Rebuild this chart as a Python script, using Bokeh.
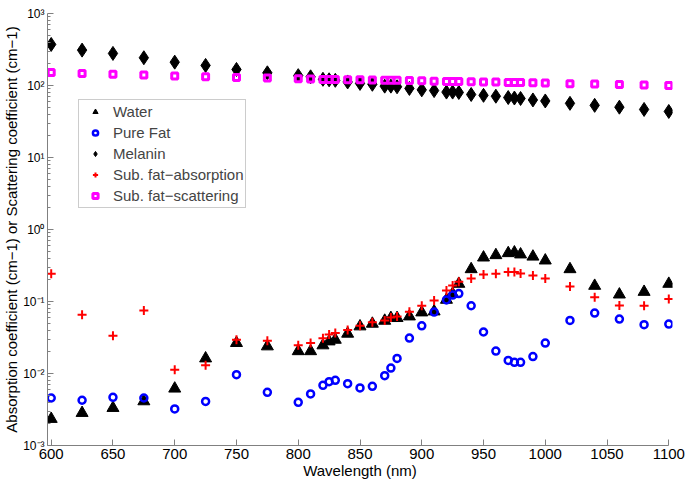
from bokeh.plotting import figure
from bokeh.models import FixedTicker, Legend, LegendItem
from bokeh.embed import file_html
from bokeh.resources import INLINE

# ---------------- data ----------------
wavelength = [600, 625, 650, 675, 700, 725, 750, 775, 800,
              810, 820, 825, 830, 840, 850, 860, 870, 875, 880,
              890, 900, 910, 920, 925, 930, 940, 950, 960, 970, 975, 980, 990, 1000,
              1020, 1040, 1060, 1080, 1100]

water = [0.00234, 0.00283, 0.00332, 0.00411, 0.00617, 0.0162, 0.0265, 0.0238, 0.0204,
         0.0204, 0.0246, 0.0279, 0.0294, 0.0357, 0.0451, 0.0491, 0.054, 0.0589, 0.0589,
         0.062, 0.0705, 0.0728, 0.1056, 0.128, 0.176, 0.281, 0.408, 0.44, 0.469, 0.48, 0.45, 0.42, 0.371,
         0.281, 0.165, 0.125, 0.136, 0.176]

pure_fat = [0.00457, 0.00425, 0.00467, 0.00457, 0.00322, 0.0041, 0.00964, 0.00548, 0.00398,
            0.0052, 0.00686, 0.00771, 0.00804, 0.00723, 0.0063, 0.00664, 0.00933, 0.0119, 0.0162,
            0.031, 0.046, 0.0713, 0.105, 0.123, 0.129, 0.0873, 0.0377, 0.0205, 0.0152, 0.0143, 0.0143, 0.0172, 0.0265,
            0.0546, 0.069, 0.057, 0.0476, 0.0486]

melanin = [372, 310, 279, 243, 211, 190, 167, 150, 137,
           132, 122, 120, 118, 112, 107, 104, 98, 98, 96,
           91, 87, 85, 81, 81, 80, 75, 73, 71, 68, 67, 66, 63, 61,
           56.5, 53, 50, 46.5, 43.6]

sub_fat_absorption = [0.243, 0.0655, 0.0335, 0.0752, 0.0113, 0.013, 0.0294, 0.0285, 0.0246,
                      0.0265, 0.0308, 0.0349, 0.0364, 0.0401, 0.046, 0.0513, 0.0546, 0.0601, 0.062,
                      0.0721, 0.0873, 0.1035, 0.1425, 0.167, 0.188, 0.209, 0.237, 0.243, 0.256, 0.256, 0.245, 0.23, 0.209,
                      0.162, 0.115, 0.088, 0.0873, 0.108]

sub_fat_scattering = [151, 147, 143, 140, 135, 132, 129, 127, 124,
                      123, 121, 121, 121, 120, 120, 119, 118, 118, 118,
                      117, 116, 115, 114, 114, 114, 113, 112, 112, 110, 110, 110, 109, 108,
                      106, 105, 103, 102, 100]

series_names = ["Water", "Pure Fat", "Melanin", "Sub. fat\u2212absorption", "Sub. fat\u2212scattering"]

x_ticks = [600, 650, 700, 750, 800, 850, 900, 950, 1000, 1050, 1100]
y_ticks = [0.001, 0.01, 0.1, 1, 10, 100, 1000]
y_tick_labels = ["10\u207b\u00b3", "10\u207b\u00b2", "10\u207b\u00b9",
                 "10\u2070", "10\u00b9", "10\u00b2", "10\u00b3"]
y_minor = [m * 10.0 ** e for e in range(-3, 3) for m in range(2, 10)]

FONT = "Liberation Sans"

# ---------------- figure ----------------
# small padding of the x range so that edge markers are not cut by the frame
p = figure(width=685, height=481, x_range=(597, 1103), y_range=(1e-3, 1e3),
           y_axis_type="log", output_backend="svg", toolbar_location=None,
           min_border_left=46, min_border_right=13, min_border_top=13, min_border_bottom=35)

p.xgrid.visible = False
p.ygrid.visible = False
p.outline_line_color = None
p.background_fill_color = "white"
p.border_fill_color = "white"

r_water = p.scatter(wavelength, water, marker="triangle", size=12,
                    fill_color="black", line_color="black")
r_fat = p.scatter(wavelength, pure_fat, marker="circle", size=7,
                  fill_color=None, line_color="#0000ff", line_width=2.5)
r_mel = p.scatter(wavelength, melanin, marker="diamond", size=14,
                  fill_color="black", line_color="black")
r_abs = p.scatter(wavelength, sub_fat_absorption, marker="cross", size=9,
                  line_color="#ff0000", line_width=2)
r_sca = p.scatter(wavelength, sub_fat_scattering, marker="square", size=6,
                  fill_color=None, line_color="#ff00ff", line_width=3)

# axes
p.xaxis.ticker = FixedTicker(ticks=x_ticks)
p.xaxis.bounds = (597, 1100)
p.yaxis.ticker = FixedTicker(ticks=y_ticks, minor_ticks=y_minor)
p.yaxis.major_label_overrides = dict(zip(y_ticks, y_tick_labels))

for ax in (p.xaxis[0], p.yaxis[0]):
    ax.axis_line_color = "#808080"
    ax.major_tick_line_color = "#808080"
    ax.minor_tick_line_color = "#808080"
    ax.major_tick_in = 6
    ax.major_tick_out = 0
    ax.minor_tick_in = 3
    ax.minor_tick_out = 0
    ax.major_label_text_font = FONT
    ax.major_label_text_color = "black"
    ax.axis_label_text_font = FONT
    ax.axis_label_text_font_style = "normal"
    ax.axis_label_text_color = "black"

p.xaxis.minor_tick_line_color = None
p.xaxis.major_label_text_font_size = "15px"
p.xaxis.major_label_standoff = 3
p.xaxis.axis_label = "Wavelength (nm)"
p.xaxis.axis_label_text_font_size = "15px"
p.xaxis.axis_label_standoff = 0

p.yaxis.major_label_text_font_size = "12px"
p.yaxis.major_label_standoff = 3
p.yaxis.axis_label = "Absorption coefficient (cm\u22121) or Scattering coefficient (cm\u22121)"
p.yaxis.axis_label_text_font_size = "15px"
p.yaxis.axis_label_standoff = 0

legend = Legend(items=[LegendItem(label=n, renderers=[r]) for n, r in
                       zip(series_names, [r_water, r_fat, r_mel, r_abs, r_sca])],
                location=(31, 237))
legend.label_text_font = FONT
legend.label_text_font_size = "15px"
legend.label_height = 21
legend.glyph_height = 13
legend.glyph_width = 30
legend.label_standoff = 3
legend.spacing = 0
legend.padding = 1
legend.margin = 0
legend.border_line_color = "#999999"
legend.border_line_width = 1
legend.background_fill_alpha = 1.0
p.add_layout(legend)

open("out.html", "w").write(file_html(p, INLINE))
